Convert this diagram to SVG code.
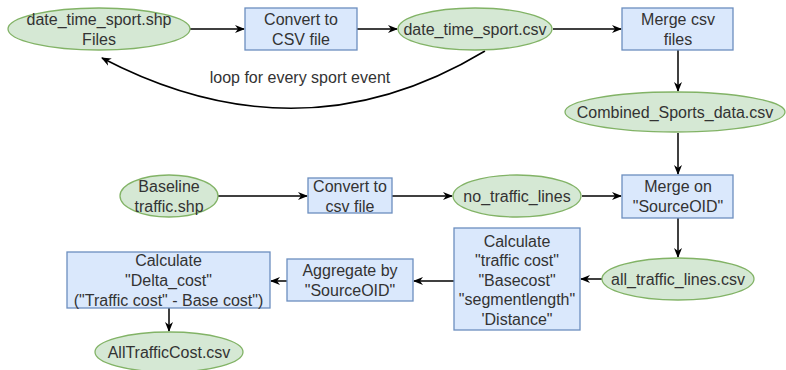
<svg xmlns="http://www.w3.org/2000/svg" width="786" height="370" viewBox="0 0 786 370">
<defs>
<style>
.e{fill:#d5e8d4;stroke:#82b366;stroke-width:1.3}
.b{fill:#dae8fc;stroke:#6c8ebf;stroke-width:1.3}
text{font-family:"Liberation Sans",Arial,sans-serif;font-size:16px;fill:#333333;text-anchor:middle;dominant-baseline:central}
.c path{fill:none;stroke:#000;stroke-width:1.5}
</style>
<marker id="a" viewBox="0 0 10 10" refX="9" refY="5" markerWidth="10" markerHeight="10" markerUnits="userSpaceOnUse" orient="auto">
<path d="M0,1 L10,5 L0,9 L3,5 Z" fill="#000"/>
</marker>
</defs>
<rect width="786" height="370" fill="#fff"/>
<g class="c">
<path d="M190,29 L244,29" marker-end="url(#a)"/>
<path d="M357,29 L397,29" marker-end="url(#a)"/>
<path d="M553,29 L621,29" marker-end="url(#a)"/>
<path d="M678,50 L678,91" marker-end="url(#a)"/>
<path d="M678,133 L678,174" marker-end="url(#a)"/>
<path d="M485,51 Q301,162 102,58" marker-end="url(#a)"/>
<path d="M218,196 L307,196" marker-end="url(#a)"/>
<path d="M392,196 L452,196" marker-end="url(#a)"/>
<path d="M582,196 L621,196" marker-end="url(#a)"/>
<path d="M678,218 L678,257" marker-end="url(#a)"/>
<path d="M602,279 L581,279" marker-end="url(#a)"/>
<path d="M454,281 L414,281" marker-end="url(#a)"/>
<path d="M287,281 L271,281" marker-end="url(#a)"/>
<path d="M169,308 L169,331" marker-end="url(#a)"/>
<text x="300" y="77">loop for every sport event</text>
</g>
<g id="n1"><ellipse class="e" cx="99" cy="29" rx="91" ry="21"/><text x="99" y="19">date_time_sport.shp</text><text x="99" y="39">Files</text></g>
<g id="n2"><rect class="b" x="245" y="8" width="112" height="42"/><text x="301" y="19">Convert to</text><text x="301" y="39">CSV file</text></g>
<g id="n3"><ellipse class="e" cx="475" cy="29" rx="77" ry="21"/><text x="475" y="29">date_time_sport.csv</text></g>
<g id="n4"><rect class="b" x="622" y="8" width="111" height="42"/><text x="678" y="19">Merge csv</text><text x="678" y="39">files</text></g>
<g id="n5"><ellipse class="e" cx="675" cy="112" rx="110" ry="20"/><text x="675" y="112">Combined_Sports_data.csv</text></g>
<g id="n6"><ellipse class="e" cx="169" cy="196" rx="49" ry="21"/><text x="169" y="186">Baseline</text><text x="169" y="206">traffic.shp</text></g>
<g id="n7"><rect class="b" x="308" y="178" width="84" height="35"/><text x="350" y="186">Convert to</text><text x="350" y="206">csv file</text></g>
<g id="n8"><ellipse class="e" cx="517" cy="196" rx="64" ry="21"/><text x="517" y="196">no_traffic_lines</text></g>
<g id="n9"><rect class="b" x="622" y="175" width="111" height="43"/><text x="678" y="186">Merge on</text><text x="678" y="206">"SourceOID"</text></g>
<g id="n10"><ellipse class="e" cx="678" cy="279" rx="76" ry="21"/><text x="678" y="279">all_traffic_lines.csv</text></g>
<g id="n11"><rect class="b" x="454" y="228" width="126" height="102"/><text x="517" y="241">Calculate</text><text x="517" y="260.5">"traffic cost"</text><text x="517" y="280">"Basecost"</text><text x="517" y="299.5">"segmentlength"</text><text x="517" y="319">'Distance"</text></g>
<g id="n12"><rect class="b" x="287" y="259" width="126" height="42"/><text x="350" y="270">Aggregate by</text><text x="350" y="290">"SourceOID"</text></g>
<g id="n13"><rect class="b" x="67" y="252" width="203" height="56"/><text x="168.5" y="260">Calculate</text><text x="168.5" y="280">"Delta_cost"</text><text x="168.5" y="300">("Traffic cost" - Base cost")</text></g>
<g id="n14"><ellipse class="e" cx="169" cy="352" rx="74" ry="20"/><text x="169" y="352">AllTrafficCost.csv</text></g>
</svg>
